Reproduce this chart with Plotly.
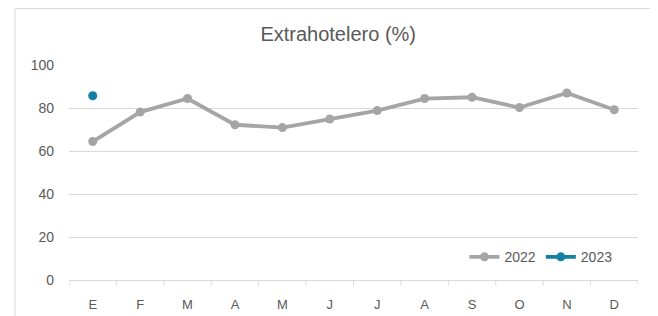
import plotly.graph_objects as go

months = ["E", "F", "M", "A", "M", "J", "J", "A", "S", "O", "N", "D"]
vals_2022 = [64.4, 78.1, 84.4, 72.2, 70.9, 74.9, 78.8, 84.4, 85.0, 80.2, 87.0, 79.2]
vals_2023 = [85.7]
y_ticks = [0, 20, 40, 60, 80, 100]

x_idx = list(range(len(months)))

fig = go.Figure()
fig.add_trace(go.Scatter(
    x=x_idx, y=vals_2022, name="2022", mode="lines+markers",
    line=dict(color="#A5A5A5", width=3.8),
    marker=dict(color="#A5A5A5", size=9),
))
fig.add_trace(go.Scatter(
    x=x_idx[:len(vals_2023)], y=vals_2023, name="2023", mode="lines+markers",
    line=dict(color="#127FA3", width=3.8),
    marker=dict(color="#127FA3", size=9),
))

grid = "#D9D9D9"
# the page body adds an 8px offset, so the figure is 8px smaller and margins compensate
fig.update_layout(
    width=650, height=308,
    margin=dict(l=61, r=20, t=57, b=36, autoexpand=False),
    paper_bgcolor="white", plot_bgcolor="white",
    font=dict(family="Liberation Sans", color="#595959", size=13),
    title=dict(text="Extrahotelero (%)", x=0.508, xanchor="center", y=0.915, yanchor="middle",
               font=dict(size=20, color="#595959")),
    xaxis=dict(
        tickmode="array", tickvals=x_idx, ticktext=months,
        range=[-0.5, 11.5], showgrid=False, zeroline=False,
        showline=True, linecolor=grid, linewidth=1,
        ticks="", ticklen=0, ticklabelstandoff=12, automargin=False,
        tickfont=dict(size=13),
    ),
    yaxis=dict(
        range=[0, 100], tickvals=y_ticks, showgrid=True, gridcolor=grid, gridwidth=1,
        zeroline=False, showline=False, ticks="", ticklabelstandoff=14, automargin=False,
        tickfont=dict(size=14),
    ),
    legend=dict(orientation="h", x=0.695, xanchor="left", y=0.106, yanchor="middle",
                bgcolor="rgba(0,0,0,0)", font=dict(size=14, color="#595959"),
                itemwidth=30, tracegroupgap=0),
    showlegend=True,
)

# category boundary tick marks
for i in range(len(months) + 1):
    fig.add_shape(type="line", xref="x", yref="paper", x0=i - 0.5, x1=i - 0.5,
                  y0=0, y1=-0.025, line=dict(color=grid, width=1))

# chart area border
fig.add_shape(type="rect", xref="paper", yref="paper",
              x0=-0.0949, x1=1.2, y0=-0.3, y1=1.2628,
              line=dict(color=grid, width=1), layer="below")

fig.write_html("out.html")
